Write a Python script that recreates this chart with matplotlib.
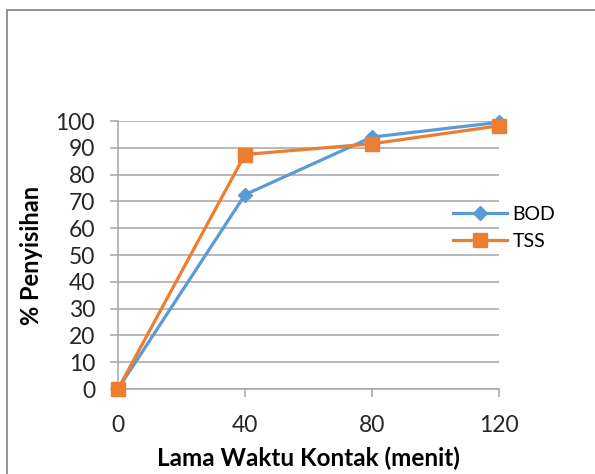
import matplotlib.pyplot as plt
from matplotlib.lines import Line2D

# removal efficiency vs contact time
waktu = [0, 40, 80, 120]
bod = [0, 72.5, 94, 99.5]
tss = [0, 87.5, 91.5, 98.2]
y_ticks = list(range(0, 101, 10))

plt.rcParams['font.family'] = ['Lato', 'DejaVu Sans']
grid_col = '#a6a6a6'

fig = plt.figure(figsize=(5.95, 4.74), dpi=100)
ax = fig.add_axes([118 / 595, 85 / 474, 381 / 595, 268 / 474])

ax.plot(waktu, bod, color='#5B9BD5', lw=2.3, marker='D', ms=7,
        label='BOD', clip_on=False, zorder=3)
ax.plot(waktu, tss, color='#ED7D31', lw=2.3, marker='s', ms=9.5,
        label='TSS', clip_on=False, zorder=4)

ax.set_xlim(0, 120)
ax.set_ylim(0, 100)
ax.set_xticks(waktu)
ax.set_yticks(y_ticks)
ax.yaxis.grid(True, color=grid_col, lw=1.1)
ax.set_axisbelow(True)

for s in ['top', 'right']:
    ax.spines[s].set_visible(False)
for s in ['left', 'bottom']:
    ax.spines[s].set_color(grid_col)
    ax.spines[s].set_linewidth(1.1)

ax.tick_params(axis='y', length=5.5, width=1.1, color=grid_col, pad=11,
               labelsize=16.5, labelcolor='#262626')
ax.tick_params(axis='x', length=6, width=1.1, color=grid_col, pad=13,
               labelsize=16.5, labelcolor='#262626')

ax.set_xlabel('Lama Waktu Kontak (menit)', fontsize=17.5, fontweight='bold',
              labelpad=7)
ax.set_ylabel('% Penyisihan', fontsize=17, fontweight='bold', labelpad=9)

fig.legend(loc='center left', bbox_to_anchor=(453 / 595, 1 - 228 / 474),
           frameon=False, fontsize=14, handlelength=2.8, handletextpad=0.25,
           labelspacing=0.5, borderpad=0, borderaxespad=0)

# chart frame (top and left edges)
fig.add_artist(Line2D([7 / 595, 1], [1 - 10 / 474] * 2, color='#8c8c8c',
                      lw=1.3, transform=fig.transFigure))
fig.add_artist(Line2D([7 / 595] * 2, [0, 1 - 10 / 474], color='#8c8c8c',
                      lw=1.3, transform=fig.transFigure))

fig.savefig('out.png', dpi=100)
